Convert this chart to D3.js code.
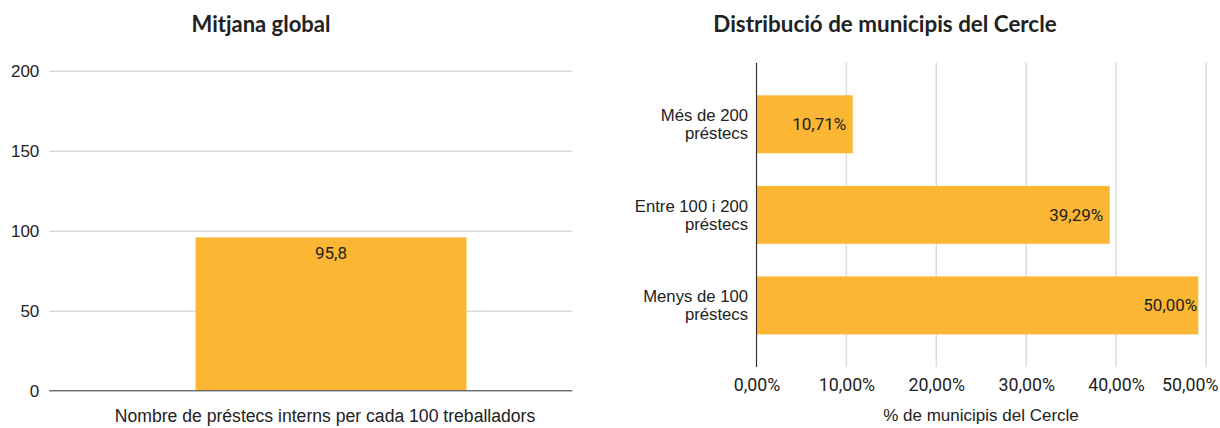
<!DOCTYPE html>
<html>
<head>
<meta charset="utf-8">
<script src="https://cdn.jsdelivr.net/npm/d3@7"></script>
<style>
  html, body { margin: 0; padding: 0; background: #fff; }
  svg { display: block; }
</style>
</head>
<body>
<svg id="chart" width="1220" height="428"></svg>
<script>
// Left panel: overall average
const globalCategories = ["Nombre de préstecs interns per cada 100 treballadors"];
const globalValues = [95.8];
const globalValueLabels = ["95,8"];
const globalTicks = [0, 50, 100, 150, 200];

// Right panel: distribution of municipalities
const distCategories = [["Més de 200", "préstecs"], ["Entre 100 i 200", "préstecs"], ["Menys de 100", "préstecs"]];
const distValues = [10.71, 39.29, 50.00];
const distValueLabels = ["10,71%", "39,29%", "50,00%"];
const distTicks = [0, 10, 20, 30, 40, 50];
const distTickLabels = ["0,00%", "10,00%", "20,00%", "30,00%", "40,00%", "50,00%"];

const BAR = "#fbb734";
const GRID = "#dcdcdc";
const TEXT = "#222";
const SANS = "'Liberation Sans', Arial, sans-serif";
const ROBOTO = "Roboto, 'Liberation Sans', sans-serif";
const TITLE = "Lato, 'Open Sans', sans-serif";

const svg = d3.select("#chart");

// ---------- Left panel ----------
{
  const left = 49.3, right = 572.3;
  const y = d3.scaleLinear().domain([0, 200]).range([390.7, 70.7]);
  const x = d3.scaleBand().domain(globalCategories).range([60, 602]).padding(1 / 3);
  const g = svg.append("g");

  g.append("text")
    .attr("x", 261).attr("y", 32)
    .attr("text-anchor", "middle")
    .attr("font-family", TITLE).attr("font-weight", "bold").attr("font-size", 22)
    .attr("fill", TEXT)
    .text("Mitjana global");

  // gridlines + tick labels
  const yAxis = d3.axisLeft(y).tickValues(globalTicks).tickSize(-(right - left)).tickPadding(10)
    .tickFormat(d3.format("d"));
  const ax = g.append("g").attr("transform", `translate(${left},0)`).call(yAxis);
  ax.select(".domain").remove();
  ax.selectAll(".tick line").attr("stroke", GRID).attr("stroke-width", 1.5);
  ax.selectAll(".tick text")
    .attr("font-family", SANS).attr("font-size", 17).attr("fill", TEXT);

  // bars
  g.selectAll("rect.bar").data(globalValues).join("rect")
    .attr("class", "bar")
    .attr("x", (d, i) => x(globalCategories[i]))
    .attr("width", x.bandwidth())
    .attr("y", d => y(d))
    .attr("height", d => y(0) - y(d))
    .attr("fill", BAR);

  // baseline
  g.append("line")
    .attr("x1", left).attr("x2", right)
    .attr("y1", y(0)).attr("y2", y(0))
    .attr("stroke", "#6b6b6b").attr("stroke-width", 1.2);

  // value labels
  g.selectAll("text.val").data(globalValues).join("text")
    .attr("class", "val")
    .attr("x", (d, i) => x(globalCategories[i]) + x.bandwidth() / 2)
    .attr("y", d => y(d) + 16)
    .attr("dy", "0.35em")
    .attr("text-anchor", "middle")
    .attr("font-family", ROBOTO).attr("font-size", 17).attr("fill", TEXT)
    .text((d, i) => globalValueLabels[i]);

  // category label under the axis
  g.selectAll("text.cat").data(globalCategories).join("text")
    .attr("class", "cat")
    .attr("x", 325).attr("y", 416)
    .attr("dy", "0.35em")
    .attr("text-anchor", "middle")
    .attr("font-family", SANS).attr("font-size", 17.6).attr("fill", TEXT)
    .text(d => d);
}

// ---------- Right panel ----------
{
  const top = 62.7, bottom = 367, clipRight = 1198.3;
  const x = d3.scaleLinear().domain([0, 50]).range([756.5, 1206]);
  const y = d3.scaleBand().domain(distCategories.map(d => d.join(" "))).range([top, bottom]).padding(0.36);
  const g = svg.append("g");

  g.append("text")
    .attr("x", 885).attr("y", 32)
    .attr("text-anchor", "middle")
    .attr("font-family", TITLE).attr("font-weight", "bold").attr("font-size", 22.4)
    .attr("fill", TEXT)
    .text("Distribució de municipis del Cercle");

  // vertical gridlines (0 is the axis line)
  g.selectAll("line.grid").data(distTicks.filter(t => t > 0)).join("line")
    .attr("class", "grid")
    .attr("x1", d => x(d)).attr("x2", d => x(d))
    .attr("y1", top).attr("y2", bottom)
    .attr("stroke", GRID).attr("stroke-width", 1.5);

  // plot area ends before the last gridline
  svg.append("defs").append("clipPath").attr("id", "plotClip")
    .append("rect").attr("x", x(0)).attr("y", top).attr("width", clipRight - x(0)).attr("height", bottom - top);

  g.append("g").attr("clip-path", "url(#plotClip)")
    .selectAll("rect").data(distValues).join("rect")
    .attr("x", x(0))
    .attr("y", (d, i) => y(distCategories[i].join(" ")))
    .attr("width", d => x(d) - x(0))
    .attr("height", y.bandwidth())
    .attr("fill", BAR);

  // axis line
  g.append("line")
    .attr("x1", x(0)).attr("x2", x(0))
    .attr("y1", top).attr("y2", bottom)
    .attr("stroke", "#333").attr("stroke-width", 1.2);

  // value labels inside bar ends
  g.selectAll("text.val").data(distValues).join("text")
    .attr("class", "val")
    .attr("x", d => Math.min(x(d) - 6.5, clipRight - 1))
    .attr("y", (d, i) => y(distCategories[i].join(" ")) + y.bandwidth() / 2)
    .attr("dy", "0.35em")
    .attr("text-anchor", "end")
    .attr("font-family", ROBOTO).attr("font-size", 17).attr("fill", TEXT)
    .text((d, i) => distValueLabels[i]);

  // category labels, two lines each
  const cats = g.selectAll("text.cat").data(distCategories).join("text")
    .attr("class", "cat")
    .attr("x", 748)
    .attr("y", d => y(d.join(" ")) + y.bandwidth() / 2)
    .attr("text-anchor", "end")
    .attr("font-family", SANS).attr("font-size", 16.7).attr("fill", TEXT);
  cats.selectAll("tspan").data(d => d).join("tspan")
    .attr("x", 748)
    .attr("dy", (d, i) => i === 0 ? "-0.2em" : "1.1em")
    .text(d => d);

  // x tick labels
  const xAxis = d3.axisBottom(x).tickValues(distTicks).tickSize(0).tickPadding(0)
    .tickFormat((d, i) => distTickLabels[i]);
  const ax = g.append("g").attr("transform", `translate(0,385)`).call(xAxis);
  ax.select(".domain").remove();
  ax.selectAll(".tick text")
    .attr("y", 0).attr("dy", "0.35em")
    .attr("font-family", ROBOTO).attr("font-size", 17.8).attr("fill", TEXT);
  // last label pulled inside the canvas edge
  ax.selectAll(".tick").filter(d => d === 50).select("text")
    .attr("text-anchor", "end").attr("x", 1218 - x(50));

  g.append("text")
    .attr("x", 981).attr("y", 415)
    .attr("dy", "0.35em")
    .attr("text-anchor", "middle")
    .attr("font-family", SANS).attr("font-size", 17).attr("fill", TEXT)
    .text("% de municipis del Cercle");
}
</script>
</body>
</html>
